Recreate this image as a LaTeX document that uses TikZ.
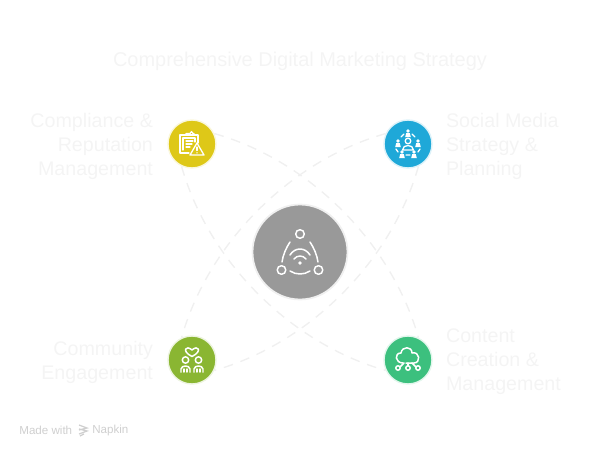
\documentclass[tikz,border=0pt]{standalone}
\usepackage{fontspec}
\setmainfont{Liberation Sans}
\usetikzlibrary{positioning,calc}
\definecolor{faint}{HTML}{F4F4F4}
\definecolor{linkgray}{HTML}{F0F0F0}
\definecolor{markgray}{HTML}{CFCFCF}
\definecolor{hubgray}{HTML}{999999}
\definecolor{yellowicon}{HTML}{DEC818}
\definecolor{blueicon}{HTML}{1FA8D8}
\definecolor{greenicon}{HTML}{8AB632}
\definecolor{tealicon}{HTML}{3CC07E}
\tikzset{
    x=0.02cm,
    y=-0.02cm,
    node distance=0.28cm,
    topic/.style = {
        draw,
        shape=circle,
        inner sep=0pt,
        minimum size=0.96cm,
        line width=0.8pt
    },
    hub/.style = {
        draw=linkgray,
        fill=hubgray,
        shape=circle,
        inner sep=0pt,
        minimum size=1.9cm,
        line width=1pt
    },
    label/.style = {
        text=faint,
        inner sep=0pt,
        yshift=-0.04cm,
        font=\fontsize{11.2}{13.66}\selectfont
    },
    link/.style = {
        draw=linkgray,
        line width=0.8pt,
        dash pattern=on 5.5pt off 4.5pt
    },
    icon/.style = {
        draw=white,
        line width=0.75pt,
        line cap=round,
        line join=round
    },
}
\begin{document}
\begin{tikzpicture}
    \useasboundingbox (0,0) rectangle (600,454);

    \node[hub] (hub) at (300,252) {};
    \node[topic,draw=yellowicon!15,fill=yellowicon] (compliance) at (192,144) {};
    \node[topic,draw=blueicon!15,fill=blueicon] (social) at (408,144) {};
    \node[topic,draw=greenicon!15,fill=greenicon] (community) at (192,360) {};
    \node[topic,draw=tealicon!15,fill=tealicon] (content) at (408,360) {};

    \node[text=faint,inner sep=0pt,font=\fontsize{11.36}{14}\selectfont] (title) at (300,61) {Comprehensive Digital Marketing Strategy};
    \node[label,align=right,left=of compliance] (compliancetext) {Compliance \&\\Reputation\\Management};
    \node[label,align=left,right=0.26cm of social] (socialtext) {Social Media\\Strategy \&\\Planning};
    \node[label,align=right,left=of community] (communitytext) {Community\\Engagement};
    \node[label,align=left,right=0.26cm of content] (contenttext) {Content\\Creation \&\\Management};

    \path[link] (compliance.25) .. controls +(95,27) and +(-27,-95) .. (content.65);
    \path[link] (compliance.245) .. controls +(27,95) and +(-95,-27) .. (content.205);
    \path[link] (social.155) .. controls +(-95,27) and +(27,-95) .. (community.115);
    \path[link] (social.295) .. controls +(-27,95) and +(95,-27) .. (community.335);

    % hub icon
    \begin{scope}[shift={(hub.center)},icon,line width=0.85pt]
        \draw (0,-18) circle (4.3);
        \draw (-18.5,18) circle (4.3);
        \draw (18.5,18) circle (4.3);
        \draw (-10,-10) .. controls (-14,-4) and (-17,3) .. (-18,10);
        \draw (10,-10) .. controls (14,-4) and (17,3) .. (18,10);
        \draw (-10,19) .. controls (-4,23) and (4,23) .. (10,19);
        \draw (-10,3) .. controls (-5,-5) and (5,-5) .. (10,3);
        \draw (-6,7) .. controls (-3,3) and (3,3) .. (6,7);
        \fill[white] (0,11) circle (1.8);
    \end{scope}

    % clipboard and warning sign
    \begin{scope}[shift={(compliance.center)},icon]
        \draw (-3,9) -- (-12,9) -- (-12,-9) -- (6,-9) -- (6,-1);
        \draw (-9,6) -- (-9,-6) -- (3,-6) -- (3,-2);
        \draw (-6,-9) -- (-6,-10.5) -- (-2,-10.5) .. controls (-2,-13) and (1,-13) .. (1,-10.5) -- (2,-10.5) -- (2,-9);
        \draw (-6,-3) -- (1,-3) (-6,0) -- (0,0) (-6,3) -- (-2,3);
        \draw (5,-1) -- (12,11) -- (-2,11) -- cycle;
        \draw (5,3) -- (5,6.5);
        \fill[white] (5,8.8) circle (0.8);
    \end{scope}

    % people around a person
    \begin{scope}[shift={(social.center)},icon]
        \draw (0,-3) circle (2.8);
        \draw (-5.5,6) .. controls (-5.5,0) and (5.5,0) .. (5.5,6) -- cycle;
        \foreach \px/\py in {0/-13,-10/-3,10/-3,-6/8,6/8} {
            \fill[white] (\px,\py) circle (1.9);
            \fill[white] (\px-2.8,\py+6) -- (\px-1.8,\py+2) -- (\px+1.8,\py+2) -- (\px+2.8,\py+6) -- cycle;
        }
        \draw (-4,-10) -- (-7,-7) (4,-10) -- (7,-7) (-12,5) -- (-10,8) (12,5) -- (10,8) (-2,11) -- (2,11);
    \end{scope}

    % heart and two persons
    \begin{scope}[shift={(community.center)},icon,line width=0.85pt]
        \draw (0,-3.5) .. controls (-11,-9) and (-6,-15.5) .. (0,-10) .. controls (6,-15.5) and (11,-9) .. (0,-3.5) -- cycle;
        \draw (-6.5,0) circle (3.2);
        \draw (6.5,0) circle (3.2);
        \draw (-11,12) -- (-11,9) .. controls (-10.5,5) and (-2.5,5) .. (-2,9) -- (-2,12);
        \draw (2,12) -- (2,9) .. controls (2.5,5) and (10.5,5) .. (11,9) -- (11,12);
        \draw (-8,9) -- (-8,12) (-5,9) -- (-5,12) (5,9) -- (5,12) (8,9) -- (8,12);
    \end{scope}

    % cloud with three leads
    \begin{scope}[shift={(content.center)},icon,line width=0.85pt]
        \draw (-5,3) .. controls (-13,3) and (-14,-7) .. (-7,-7) .. controls (-6,-14) and (4,-14) .. (4,-7) .. controls (12,-9) and (13,3) .. (6,3) -- (-2,3);
        \draw (0,3) -- (0,5.8);
        \draw (-8,7) -- (-4,3);
        \draw (8,7) -- (4,3);
        \draw (0,8) circle (2.2);
        \draw (-10,8) circle (2.2);
        \draw (10,8) circle (2.2);
    \end{scope}

    % footer
    \node[text=markgray,inner sep=0pt,anchor=west,font=\fontsize{6.6}{8}\selectfont] (made) at (19,430.5) {Made with};
    \node[text=markgray,inner sep=0pt,anchor=west,font=\fontsize{6.6}{8}\selectfont] (napkin) at (92,430.5) {Napkin};
    \draw[markgray,line width=0.7pt] (79,425) -- (87,428) -- (79,430) (79,429) -- (87,431) -- (79,434) (80,436) -- (84,434);
\end{tikzpicture}
\end{document}
